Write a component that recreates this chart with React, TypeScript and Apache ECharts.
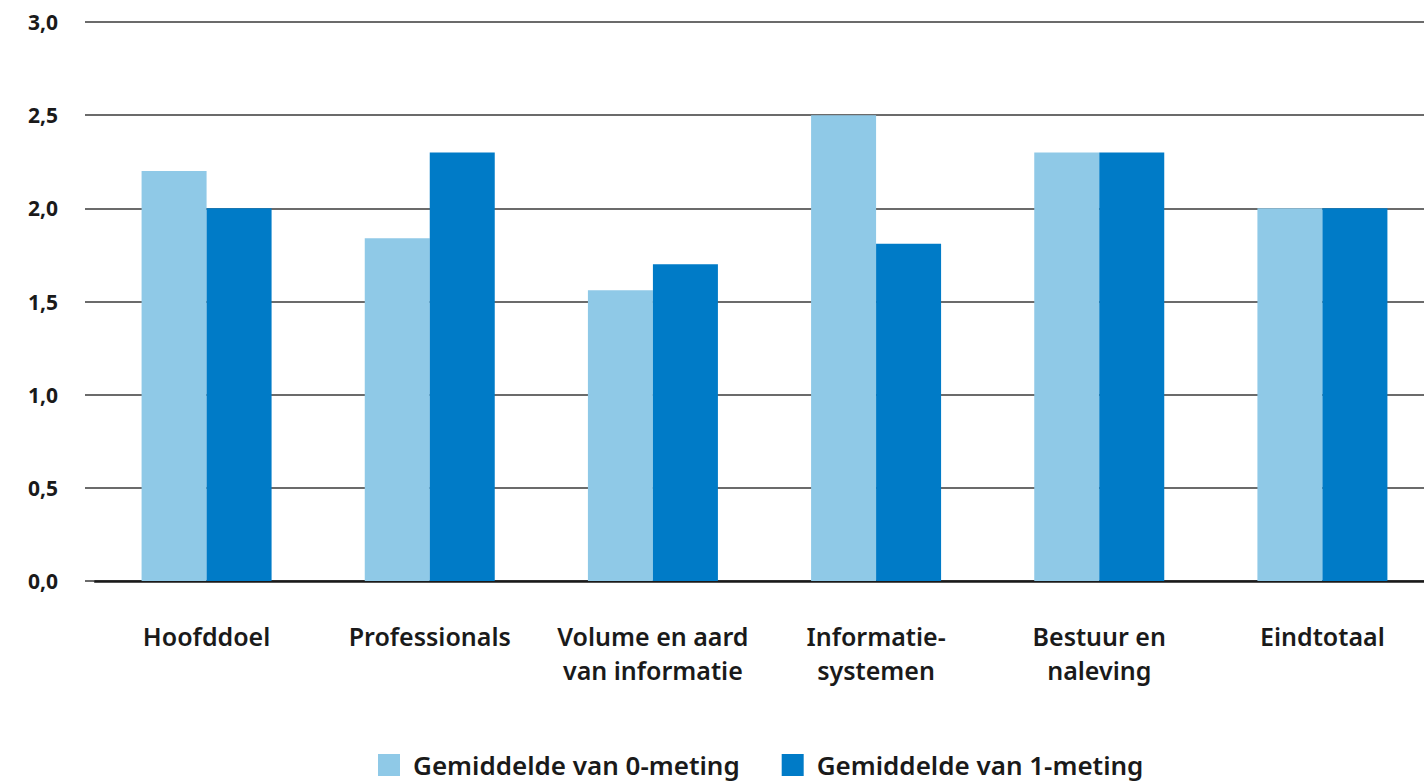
import React, { useEffect, useRef } from "react";
import * as echarts from "echarts";

const categories = [
  "Hoofddoel",
  "Professionals",
  "Volume en aard\nvan informatie",
  "Informatie-\nsystemen",
  "Bestuur en\nnaleving",
  "Eindtotaal",
];
const seriesNames = ["Gemiddelde van 0-meting", "Gemiddelde van 1-meting"];
const meting0 = [2.2, 1.84, 1.56, 2.5, 2.3, 2.0];
const meting1 = [2.0, 2.3, 1.7, 1.81, 2.3, 2.0];
const colors = ["#8fc9e7", "#007bc7"];

export default function App() {
  const ref = useRef<HTMLDivElement>(null);
  useEffect(() => {
    if (!ref.current) return;
    const chart = echarts.init(ref.current, undefined, { renderer: "svg" });
    const font = "'Noto Sans', sans-serif";
    chart.setOption({
      animation: false,
      grid: { left: 95, width: 1339, top: 22, height: 559, containLabel: false, outerBoundsMode: "none" },
      legend: {
        top: 752,
        left: 378,
        itemWidth: 22,
        itemHeight: 22,
        itemGap: 42,
        icon: "rect",
        padding: 0,
        textStyle: { fontFamily: font, fontSize: 26, fontWeight: 600, color: "#1a1a1a", padding: [0, 0, 0, 8] },
        data: seriesNames,
      },
      xAxis: {
        type: "category",
        data: categories,
        axisLine: { show: true, lineStyle: { color: "#1a1a1a", width: 2.5 } },
        axisTick: { show: false },
        axisLabel: {
          fontFamily: font,
          fontSize: 25,
          fontWeight: 600,
          color: "#1a1a1a",
          lineHeight: 34,
          margin: 38,
          interval: 0,
        },
      },
      yAxis: {
        type: "value",
        min: 0,
        max: 3,
        interval: 0.5,
        axisLine: { show: false },
        axisTick: { show: true, length: 10, lineStyle: { color: "#3a3a3a", width: 1.5 } },
        splitLine: { lineStyle: { color: "#3a3a3a", width: 1.5 } },
        axisLabel: {
          fontFamily: font,
          fontSize: 21,
          fontWeight: 700,
          color: "#1a1a1a",
          margin: 37,
          formatter: (v: number) => v.toFixed(1).replace(".", ","),
        },
      },
      series: [
        {
          name: seriesNames[0],
          type: "bar",
          data: meting0,
          barWidth: 65,
          barGap: "0%",
          itemStyle: { color: colors[0] },
        },
        {
          name: seriesNames[1],
          type: "bar",
          data: meting1,
          barWidth: 65,
          barGap: "0%",
          itemStyle: { color: colors[1] },
        },
      ],
    });
    return () => chart.dispose();
  }, []);
  return <div ref={ref} style={{ position: "fixed", left: 0, top: 0, width: 1424, height: 783, background: "#fff", overflow: "hidden" }} />;
}
